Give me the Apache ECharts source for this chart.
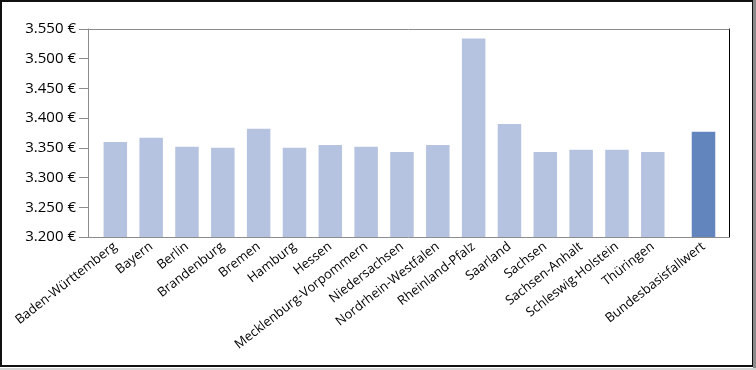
<!DOCTYPE html>
<html>
<head>
<meta charset="utf-8">
<script src="https://cdn.jsdelivr.net/npm/echarts@6/dist/echarts.min.js"></script>
<style>
html,body{margin:0;padding:0;background:#fff;}
#chart{width:756px;height:370px;}
</style>
</head>
<body>
<div id="chart"></div>
<script>
// Data
const states = ['Baden-Württemberg','Bayern','Berlin','Brandenburg','Bremen','Hamburg','Hessen','Mecklenburg-Vorpommern','Niedersachsen','Nordrhein-Westfalen','Rheinland-Pfalz','Saarland','Sachsen','Sachsen-Anhalt','Schleswig-Holstein','Thüringen'];
const stateValues = [3360,3367,3352,3350,3382,3350,3355,3352,3343,3355,3534,3390,3343,3347,3347,3343];
const bundCategories = ['Bundesbasisfallwert'];
const bundValues = [3377];
const yMin = 3200, yMax = 3550, yStep = 50;

function fmtEuro(v){
  const t = Math.floor(v/1000), r = Math.round(v%1000);
  return t + '.' + String(r).padStart(3,'0') + ' €';
}

const chart = echarts.init(document.getElementById('chart'), null, {renderer:'canvas'});
const font = 'Open Sans';
const gridTop = 29, gridH = 208;
const hiddenY = (gi) => ({type:'value', gridIndex:gi, min:yMin, max:yMax, interval:yStep, show:false});

chart.setOption({
  animation:false,
  backgroundColor:'#fff',
  grid:[
    {left:88, top:gridTop, width:641, height:gridH},
    {left:97.4, top:gridTop, width:573.3, height:gridH},
    {left:685.6, top:gridTop, width:35.8, height:gridH}
  ],
  xAxis:[
    {type:'category', gridIndex:0, data:[''], position:'bottom',
     axisLine:{show:true, lineStyle:{color:'#8c8c8c', width:1}}, axisTick:{show:false}, axisLabel:{show:false}},
    {type:'category', gridIndex:0, data:[''], position:'top',
     axisLine:{show:true, onZero:false, lineStyle:{color:'#8c8c8c', width:1}}, axisTick:{show:false}, axisLabel:{show:false}},
    {type:'category', gridIndex:1, data:states, axisLine:{show:false}, axisTick:{show:false},
     axisLabel:{rotate:38, interval:0, margin:8, color:'#000', fontFamily:font, fontSize:13}},
    {type:'category', gridIndex:2, data:bundCategories, axisLine:{show:false}, axisTick:{show:false},
     axisLabel:{rotate:38, interval:0, margin:8, color:'#000', fontFamily:font, fontSize:13}}
  ],
  yAxis:[
    {type:'value', gridIndex:0, min:yMin, max:yMax, interval:yStep, position:'left',
     axisLine:{show:true, lineStyle:{color:'#8c8c8c', width:1}},
     axisTick:{show:true, length:9, lineStyle:{color:'#8c8c8c'}},
     splitLine:{show:false},
     axisLabel:{margin:12, color:'#000', fontFamily:font, fontSize:15, formatter:fmtEuro}},
    {type:'value', gridIndex:0, min:yMin, max:yMax, interval:yStep, position:'right',
     axisLine:{show:true, lineStyle:{color:'#000', width:1}}, axisTick:{show:false}, axisLabel:{show:false}, splitLine:{show:false}},
    hiddenY(1),
    hiddenY(2)
  ],
  series:[
    {type:'bar', xAxisIndex:2, yAxisIndex:2, data:stateValues, barWidth:23.5,
     itemStyle:{color:'#b6c3e0'}},
    {type:'bar', xAxisIndex:3, yAxisIndex:3, data:bundValues, barWidth:23.5,
     itemStyle:{color:'#6285be'}}
  ],
  graphic:[
    {type:'rect', shape:{x:1, y:1, width:752, height:365}, style:{fill:null, stroke:'#111', lineWidth:2}, z:100},
    {type:'rect', shape:{x:753, y:0, width:3, height:370}, style:{fill:'#8a8a8a'}, z:100},
    {type:'rect', shape:{x:0, y:368, width:756, height:2}, style:{fill:'#d4d4d4'}, z:100}
  ]
});
</script>
</body>
</html>
